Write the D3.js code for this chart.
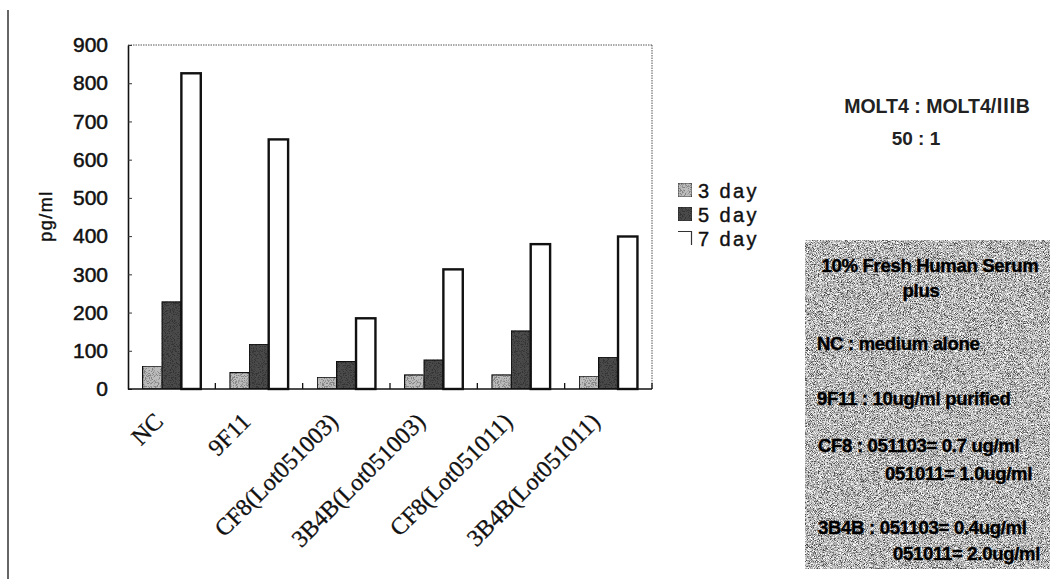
<!DOCTYPE html>
<html>
<head>
<meta charset="utf-8">
<script src="https://cdn.jsdelivr.net/npm/d3@7"></script>
<style>
  html, body { margin: 0; padding: 0; background: #fff; }
  svg { display: block; }
</style>
</head>
<body>
<svg id="chart" width="1052" height="579"></svg>
<script>
// Sample groups and measured concentration (pg/ml) per incubation day
const categories = ["NC", "9F11", "CF8(Lot051003)", "3B4B(Lot051003)", "CF8(Lot051011)", "3B4B(Lot051011)"];
const seriesNames = ["3 day", "5 day", "7 day"];
const day3 = [60, 43, 31, 37, 37, 34];
const day5 = [228, 117, 72, 76, 152, 83];
const day7 = [826, 653, 185, 313, 379, 399];
const yTicks = [0, 100, 200, 300, 400, 500, 600, 700, 800, 900];

const cellRatio = ["MOLT4 : MOLT4/\u2162B", "50 : 1"];
const noteLines = [
  "10% Fresh Human Serum",
  "plus",
  "NC : medium alone",
  "9F11 : 10ug/ml purified",
  "CF8 : 051103= 0.7 ug/ml",
  "051011= 1.0ug/ml",
  "3B4B : 051103= 0.4ug/ml",
  "051011= 2.0ug/ml"
];

const seriesValues = [day3, day5, day7];
const rows = categories.map((c, i) => ({
  cat: c,
  vals: seriesNames.map((s, k) => ({ series: s, value: seriesValues[k][i] }))
}));

const svg = d3.select("#chart");
const defs = svg.append("defs");

// pixel-scale speckle used for the shaded bars and the notes box
function grainFilter(id, freq, seed, gain, table) {
  const f = defs.append("filter").attr("id", id)
    .attr("x", 0).attr("y", 0).attr("width", 1).attr("height", 1)
    .attr("filterUnits", "objectBoundingBox")
    .attr("color-interpolation-filters", "sRGB");
  f.append("feTurbulence").attr("type", "fractalNoise")
    .attr("baseFrequency", freq).attr("numOctaves", 3).attr("seed", seed).attr("result", "n");
  const off = 0.5 - gain * 0.5;
  f.append("feColorMatrix").attr("in", "n").attr("type", "matrix")
    .attr("values", `${gain} 0 0 0 ${off}  ${gain} 0 0 0 ${off}  ${gain} 0 0 0 ${off}  0 0 0 0 1`)
    .attr("result", "g");
  const ct = f.append("feComponentTransfer").attr("in", "g").attr("result", "s");
  ["feFuncR", "feFuncG", "feFuncB"].forEach(fn =>
    ct.append(fn).attr("type", "discrete").attr("tableValues", table));
  f.append("feBlend").attr("in", "s").attr("in2", "SourceGraphic").attr("mode", "multiply").attr("result", "b");
  f.append("feComposite").attr("in", "b").attr("in2", "SourceGraphic").attr("operator", "in");
}
grainFilter("grainBar", 1.1, 4, 3, "0.7 0.8 0.9 1 1 1 1");
grainFilter("grainBox", 1.3, 7, 2.2, "0.3 0.45 0.58 0.68 0.76 0.84 0.92 1");

const plot = { left: 128, right: 652, top: 45, bottom: 389 };

const x = d3.scaleBand().domain(categories).range([plot.left, plot.right]).paddingInner(0).paddingOuter(0);
const xs = d3.scaleBand().domain(seriesNames).range([0, x.bandwidth()]).paddingInner(0).paddingOuter(0.75);
const y = d3.scaleLinear().domain([0, 900]).range([plot.bottom, plot.top]);

const fills = { "3 day": "#bcbcbc", "5 day": "#4a4a4a", "7 day": "#ffffff" };

// page margin rule on the far left
svg.append("line").attr("x1", 8).attr("x2", 8).attr("y1", 10).attr("y2", 579)
  .attr("stroke", "#333").attr("stroke-width", 1.5);

// plot-area frame (top and right are dotted)
svg.append("line").attr("x1", plot.left).attr("x2", plot.right).attr("y1", plot.top).attr("y2", plot.top)
  .attr("stroke", "#555").attr("stroke-width", 1).attr("stroke-dasharray", "1.5,1");
svg.append("line").attr("x1", plot.right).attr("x2", plot.right).attr("y1", plot.top).attr("y2", plot.bottom)
  .attr("stroke", "#555").attr("stroke-width", 1).attr("stroke-dasharray", "1.5,1");

// bars
const g = svg.append("g");
const groups = g.selectAll("g.grp").data(rows).join("g")
  .attr("transform", d => `translate(${x(d.cat)},0)`);
groups.selectAll("rect").data(d => d.vals).join("rect")
  .attr("x", d => xs(d.series))
  .attr("y", d => y(d.value))
  .attr("width", xs.bandwidth())
  .attr("height", d => y(0) - y(d.value))
  .attr("fill", d => fills[d.series])
  .attr("stroke", "#111")
  .attr("stroke-width", d => d.series === "7 day" ? 2.4 : 1.3)
  .attr("filter", d => d.series === "7 day" ? null : "url(#grainBar)");

// y axis
const yAxis = d3.axisLeft(y).tickValues(yTicks).tickSize(-4).tickPadding(20).tickSizeOuter(0);
const ya = svg.append("g").attr("transform", `translate(${plot.left},0)`).call(yAxis);
ya.select(".domain").attr("stroke", "#111").attr("stroke-width", 1.6);
ya.selectAll(".tick line").attr("stroke", "#333");
ya.selectAll(".tick text")
  .attr("font-family", "Liberation Sans, Arial, sans-serif")
  .attr("font-size", 21).attr("fill", "#111")
  .attr("stroke", "#111").attr("stroke-width", 0.5);

// x axis with inward ticks at category boundaries
const xa = svg.append("g").attr("transform", `translate(0,${plot.bottom})`);
xa.append("line").attr("x1", plot.left).attr("x2", plot.right).attr("y1", 0).attr("y2", 0)
  .attr("stroke", "#111").attr("stroke-width", 1.6);
xa.selectAll("line.tk").data(categories.slice(1).concat(["__end"])).join("line")
  .attr("class", "tk")
  .attr("x1", d => d === "__end" ? plot.right : x(d))
  .attr("x2", d => d === "__end" ? plot.right : x(d))
  .attr("y1", 0).attr("y2", -6)
  .attr("stroke", "#111").attr("stroke-width", 1.3);

// rotated category labels
svg.append("g").selectAll("text").data(categories).join("text")
  .attr("transform", d => `translate(${x(d) + x.bandwidth() / 2 - 7},${plot.bottom + 34}) rotate(-45)`)
  .attr("text-anchor", "end")
  .attr("font-family", "Liberation Serif, Times New Roman, serif")
  .attr("font-size", 24).attr("fill", "#111")
  .attr("stroke", "#111").attr("stroke-width", 0.3)
  .text(d => d);

// y axis title
svg.append("text")
  .attr("transform", "translate(52,216) rotate(-90)")
  .attr("text-anchor", "middle")
  .attr("font-family", "Liberation Sans, Arial, sans-serif")
  .attr("font-size", 18).attr("letter-spacing", 1.5).attr("fill", "#111")
  .attr("stroke", "#111").attr("stroke-width", 0.4)
  .text("pg/ml");

// legend
const lg = svg.append("g").attr("transform", "translate(678,183)");
const li = lg.selectAll("g").data(seriesNames).join("g")
  .attr("transform", (d, i) => `translate(0,${i * 24})`);
li.filter(d => d !== "7 day").append("rect")
  .attr("width", 14).attr("height", 14)
  .attr("fill", d => fills[d]).attr("stroke", "#222").attr("stroke-width", 0.8)
  .attr("filter", "url(#grainBar)");
li.filter(d => d === "7 day").append("path")
  .attr("d", "M0,0.5H13.5V14").attr("fill", "none").attr("stroke", "#333").attr("stroke-width", 1.2);
li.append("text").attr("x", 20).attr("y", 14.5)
  .attr("font-family", "Liberation Sans, Arial, sans-serif")
  .attr("font-size", 20).attr("letter-spacing", 2.4).attr("fill", "#111")
  .attr("stroke", "#111").attr("stroke-width", 0.4)
  .text(d => d);

// cell ratio annotation
svg.append("text").attr("x", 937).attr("y", 113).attr("text-anchor", "middle")
  .attr("font-family", "Liberation Sans, Noto Sans CJK JP, Arial, sans-serif")
  .attr("font-weight", "bold").attr("font-size", 19.5).attr("fill", "#222")
  .text(cellRatio[0]);
svg.append("text").attr("x", 916).attr("y", 145).attr("text-anchor", "middle")
  .attr("font-family", "Liberation Sans, Arial, sans-serif")
  .attr("font-weight", "bold").attr("font-size", 19).attr("fill", "#222")
  .text(cellRatio[1]);

// notes box
svg.append("rect").attr("x", 805).attr("y", 240).attr("width", 245).attr("height", 329)
  .attr("fill", "#ffffff").attr("filter", "url(#grainBox)");
const noteLayout = [
  { y: 272, x: 930, anchor: "middle" },
  { y: 297, x: 921, anchor: "middle" },
  { y: 350, x: 817, anchor: "start" },
  { y: 405, x: 817, anchor: "start" },
  { y: 452, x: 818, anchor: "start" },
  { y: 480, x: 1032, anchor: "end" },
  { y: 534, x: 818, anchor: "start" },
  { y: 560, x: 1040, anchor: "end" }
];
svg.append("g").selectAll("text").data(noteLines).join("text")
  .attr("x", (d, i) => noteLayout[i].x)
  .attr("y", (d, i) => noteLayout[i].y)
  .attr("text-anchor", (d, i) => noteLayout[i].anchor)
  .attr("font-family", "Liberation Sans, Arial, sans-serif")
  .attr("font-weight", "bold").attr("font-size", 18.5).attr("fill", "#000")
  .attr("stroke", "#000").attr("stroke-width", 0.4)
  .attr("letter-spacing", -0.3)
  .text(d => d);
</script>
</body>
</html>
